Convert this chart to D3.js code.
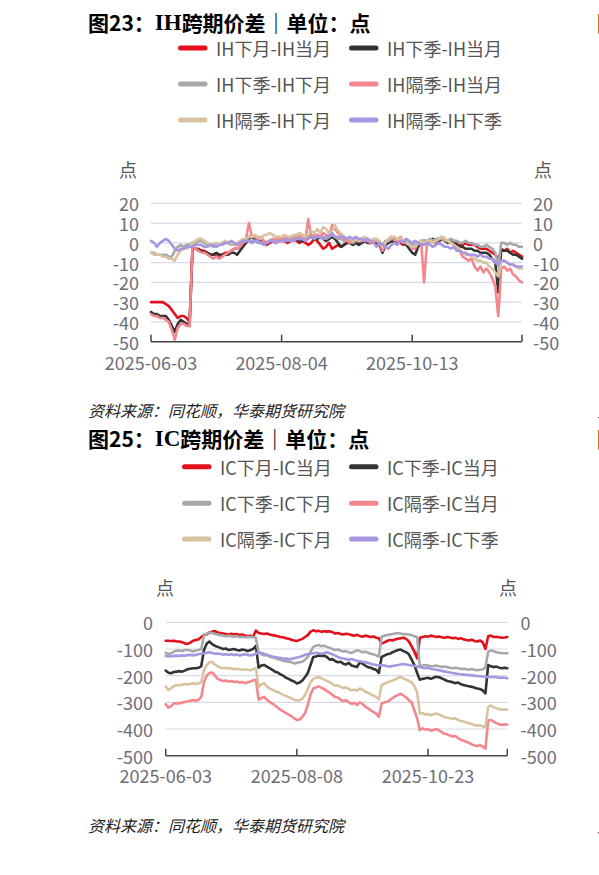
<!DOCTYPE html>
<html><head><meta charset="utf-8">
<script src="https://cdn.jsdelivr.net/npm/d3@7"></script>
<style>body{margin:0;background:#fff}svg{display:block;background:#fff}</style>
</head><body>
<svg id="c" width="599" height="875"></svg>
<script>
// ---------- categories (trading days) ----------
const dates = [
"2025-06-03","2025-06-04","2025-06-05","2025-06-06","2025-06-09","2025-06-10","2025-06-11","2025-06-12","2025-06-13","2025-06-16",
"2025-06-17","2025-06-18","2025-06-19","2025-06-20","2025-06-23","2025-06-24","2025-06-25","2025-06-26","2025-06-27","2025-06-30",
"2025-07-01","2025-07-02","2025-07-03","2025-07-04","2025-07-07","2025-07-08","2025-07-09","2025-07-10","2025-07-11","2025-07-14",
"2025-07-15","2025-07-16","2025-07-17","2025-07-18","2025-07-21","2025-07-22","2025-07-23","2025-07-24","2025-07-25","2025-07-28",
"2025-07-29","2025-07-30","2025-07-31","2025-08-01","2025-08-04","2025-08-05","2025-08-06","2025-08-07","2025-08-08","2025-08-11",
"2025-08-12","2025-08-13","2025-08-14","2025-08-15","2025-08-18","2025-08-19","2025-08-20","2025-08-21","2025-08-22","2025-08-25",
"2025-08-26","2025-08-27","2025-08-28","2025-08-29","2025-09-01","2025-09-02","2025-09-03","2025-09-04","2025-09-05","2025-09-08",
"2025-09-09","2025-09-10","2025-09-11","2025-09-12","2025-09-15","2025-09-16","2025-09-17","2025-09-18","2025-09-19","2025-09-22",
"2025-09-23","2025-09-24","2025-09-25","2025-09-26","2025-09-29","2025-09-30","2025-10-09","2025-10-10","2025-10-13","2025-10-14",
"2025-10-15","2025-10-16","2025-10-17","2025-10-20","2025-10-21","2025-10-22","2025-10-23","2025-10-24","2025-10-27","2025-10-28",
"2025-10-29","2025-10-30","2025-10-31","2025-11-03","2025-11-04","2025-11-05","2025-11-06","2025-11-07","2025-11-10","2025-11-11",
"2025-11-12","2025-11-13","2025-11-14","2025-11-17","2025-11-18","2025-11-19","2025-11-20","2025-11-21","2025-11-24","2025-11-25",
"2025-11-26","2025-11-27","2025-11-28","2025-12-01","2025-12-02","2025-12-03"];

// ---------- tick labels ----------
const ticksIH = ["2025-06-03","2025-08-04","2025-10-13"];
const ticksIC = ["2025-06-03","2025-08-08","2025-10-23"];
const yTicksIH = [20,10,0,-10,-20,-30,-40,-50];
const yTicksIC = [0,-100,-200,-300,-400,-500];

// ---------- series names ----------
const namesIH = ["IH下月-IH当月","IH下季-IH当月","IH下季-IH下月","IH隔季-IH当月","IH隔季-IH下月","IH隔季-IH下季"];
const namesIC = ["IC下月-IC当月","IC下季-IC当月","IC下季-IC下月","IC隔季-IC当月","IC隔季-IC下月","IC隔季-IC下季"];

// ---------- IH values ----------
const ihNextCur = [-30,-30,-30,-30,-30,-31,-32,-34,-36,-38,-37,-37,-38,-40,
-2,-3,-3,-4,-4,-5,-6,-6,-6,-7,-6,-5,-5,-4,-3,-3,-2,-1,0,3,3,2,2,1,0,-1,0,1,0,1,
1,1,0,1,2,1,0,1,0,-1,0,2,1,-1,-3,-2,0,-3,-2,-1,
-2,-1,0,1,0,1,0,0,1,1,0,1,0,-1,-2,0,1,1,0,1,0,-1,0,-1,-2,
-3,-1,0,1,0,1,1,0,1,2,1,1,0,1,0,-1,
-1,0,-1,-1,-1,-2,-3,-3,-3,-4,-5,-6,-8,-4,-4,-3,-5,-4,-5,-6,-7];
const ihNqCur = [-35,-36,-36,-37,-37,-37,-39,-42,-45,-41,-39,-40,-41,-42,
-2,-3,-4,-4,-5,-5,-6,-6,-5,-6,-6,-6,-6,-5,-5,-6,-4,-2,0,2,3,2,2,1,0,0,1,1,1,2,
2,2,1,1,2,2,1,1,2,3,3,2,2,3,2,1,2,3,2,0,
-2,-1,0,0,-1,0,-1,0,1,0,0,1,0,-1,-5,-1,0,1,0,0,1,0,-1,-3,-5,
-6,-2,0,1,0,1,2,1,1,2,1,0,1,0,-1,-2,
-2,-3,-3,-3,-4,-4,-5,-5,-5,-6,-8,-10,-25,-3,-4,-4,-5,-6,-6,-7,-8];
const ihNqNext = [-5,-5,-6,-6,-6,-6,-7,-7,-4,-2,-1,-2,-1,-1,
0,0,1,1,0,-1,-1,-2,-1,-1,0,0,0,-1,-1,-1,0,0,1,1,1,1,0,0,1,0,1,1,2,2,
2,2,1,2,2,3,2,2,3,3,3,3,4,3,3,2,3,4,3,2,
2,1,1,1,0,1,1,1,2,1,1,1,1,0,-1,1,1,2,2,1,2,1,0,0,-1,
-1,0,1,1,1,2,1,2,2,2,1,1,2,1,1,0,
0,1,0,0,-1,-1,-2,-2,-1,-2,-3,-5,-12,0,0,-1,0,-1,-1,-2,-2];
const ihFarCur = [-36,-37,-37,-38,-38,-39,-40,-44,-49,-43,-41,-41,-42,-42,
-1,-3,-4,-5,-5,-6,-7,-8,-7,-8,-7,-6,-5,-4,-3,-3,-2,0,2,10,3,3,2,3,1,0,1,2,1,2,
2,3,2,3,3,4,3,4,2,12,3,4,4,3,5,4,3,9,7,5,
4,2,1,0,1,2,1,1,2,1,0,2,1,0,-4,0,2,3,2,1,3,1,0,-1,-3,
-3,0,1,-20,0,1,0,1,2,3,2,1,0,-1,-3,-4,
-7,-8,-9,-8,-12,-14,-12,-15,-13,-15,-18,-22,-37,-13,-12,-14,-13,-16,-17,-19,-20];
const ihFarNext = [-5,-6,-6,-6,-7,-7,-8,-8,-9,-6,-4,-3,-3,-2,
0,1,2,2,1,0,-1,-1,0,-1,0,1,0,0,-1,0,1,2,2,3,3,4,3,2,4,4,5,4,3,3,
3,4,3,3,4,4,5,4,3,5,6,5,7,5,8,7,5,6,9,6,
5,3,2,2,1,2,1,2,3,2,1,2,2,1,-2,0,2,3,3,2,2,1,0,-1,-2,
-2,0,1,0,1,1,0,1,2,3,2,1,0,-1,-2,-3,
-5,-6,-6,-7,-8,-9,-9,-10,-10,-12,-13,-15,-17,-10,-9,-10,-11,-11,-12,-13,-13];
const ihFarNq = [1,0,-2,0,1,2,1,-1,-3,-4,-3,-3,-2,-2,
-2,-1,-1,-1,-2,-2,-1,-1,-2,-1,-1,0,0,1,0,-1,0,1,1,1,0,1,1,0,-1,0,1,1,0,1,
1,1,2,1,1,2,2,2,1,2,3,2,3,3,2,3,3,5,3,3,
3,3,2,3,2,3,2,2,1,2,1,0,-2,0,-1,-2,-3,-1,0,-1,1,0,2,1,0,
1,0,-1,-1,0,-1,-2,-1,0,-1,-2,-2,-3,-2,-4,-4,
-5,-5,-6,-6,-6,-7,-6,-7,-7,-8,-8,-10,-11,-9,-9,-10,-11,-11,-12,-12,-12];

// ---------- IC values ----------
const icNextCur = [-69,-69,-70,-69,-72,-72,-75,-79,-81,-76,-69,-66,-64,
-55,-48,-45,-38,-35,-33,-38,-40,-42,-44,-46,-43,-45,-44,-48,-46,-50,-52,-50,-54,-31,
-40,-42,-44,-42,-46,-48,-50,-52,-55,-56,-60,-62,-65,-68,-70,-66,-62,-55,-48,-35,
-30,-34,-32,-36,-33,-35,-34,-37,-42,-40,-44,-46,-43,-45,-48,-50,-47,-51,-54,-50,-52,-55,-53,-58,-60,
-80,-75,-70,-66,-68,-64,-62,-60,-58,-62,-72,-90,-110,-135,
-58,-55,-52,-54,-50,-52,-55,-53,-56,-58,-55,-57,-60,-58,-62,-60,-64,-66,-68,-65,-70,-72,-68,-75,-100,
-52,-50,-55,-54,-56,-58,-57,-55];
const icNqCur = [-181,-189,-191,-186,-185,-183,-185,-181,-176,-174,-172,-172,-170,
-165,-104,-80,-72,-82,-88,-92,-96,-100,-98,-104,-102,-100,-104,-106,-102,-104,-108,-104,-100,-88,
-170,-162,-160,-166,-172,-178,-185,-188,-195,-200,-208,-212,-218,-222,-229,-226,-218,-205,-190,-160,
-130,-128,-124,-126,-125,-130,-140,-138,-145,-150,-148,-155,-158,-152,-162,-165,-168,-150,-155,-162,-168,-170,-175,-178,-190,
-130,-125,-120,-118,-112,-108,-104,-102,-108,-112,-120,-140,-160,-190,
-215,-212,-210,-208,-212,-208,-204,-206,-210,-215,-220,-222,-225,-228,-226,-232,-235,-238,-240,-242,-245,-248,-250,-255,-266,
-160,-165,-168,-166,-170,-172,-170,-172];
const icNqNext = [-114,-119,-116,-110,-106,-106,-108,-104,-104,-106,-109,-106,-104,
-100,-50,-42,-38,-40,-44,-46,-48,-50,-52,-50,-52,-54,-52,-55,-54,-56,-55,-54,-56,-58,
-114,-120,-124,-122,-128,-132,-134,-138,-140,-144,-146,-148,-150,-154,-152,-150,-148,-140,-130,-110,
-92,-88,-85,-90,-88,-92,-96,-100,-104,-102,-106,-110,-108,-112,-115,-110,-105,-108,-112,-110,-114,-118,-120,-124,-128,
-54,-50,-48,-46,-44,-42,-40,-42,-45,-44,-46,-48,-52,-56,
-165,-162,-160,-162,-165,-164,-162,-165,-168,-166,-168,-170,-172,-170,-172,-175,-174,-176,-178,-175,-178,-180,-178,-176,-170,
-110,-106,-108,-112,-114,-115,-116,-116];
const icFarCur = [-307,-320,-314,-304,-304,-304,-301,-299,-297,-294,-291,-294,-291,
-280,-225,-200,-190,-188,-200,-212,-216,-220,-218,-222,-220,-224,-222,-226,-224,-228,-225,-222,-218,-215,
-290,-284,-280,-290,-298,-305,-312,-320,-328,-334,-340,-346,-352,-360,-366,-364,-355,-340,-310,-270,
-248,-244,-240,-246,-250,-258,-264,-272,-280,-282,-290,-296,-292,-300,-306,-302,-310,-300,-306,-316,-322,-330,-336,-342,-354,
-305,-300,-298,-292,-284,-278,-272,-268,-274,-282,-292,-300,-330,-360,
-404,-398,-402,-400,-406,-404,-400,-405,-412,-418,-420,-424,-428,-426,-434,-440,-444,-448,-452,-458,-462,-464,-460,-466,-474,
-368,-366,-372,-378,-382,-385,-382,-384];
const icFarNext = [-241,-254,-247,-239,-235,-236,-234,-231,-232,-231,-229,-231,-229,
-225,-180,-160,-150,-148,-158,-165,-170,-172,-170,-174,-172,-176,-174,-176,-178,-176,-178,-180,-176,-172,
-242,-232,-228,-240,-248,-252,-258,-262,-266,-272,-276,-280,-285,-290,-293,-292,-286,-272,-250,-225,
-212,-208,-205,-210,-215,-220,-225,-230,-238,-236,-242,-246,-244,-250,-255,-252,-256,-248,-252,-260,-264,-270,-275,-280,-288,
-236,-230,-226,-222,-218,-214,-208,-205,-210,-215,-220,-225,-240,-262,
-342,-340,-346,-344,-348,-345,-342,-346,-350,-355,-358,-360,-362,-360,-366,-370,-372,-376,-378,-382,-385,-388,-386,-390,-392,
-316,-312,-318,-322,-325,-328,-326,-328];
const icFarNq = [-126,-128,-127,-126,-125,-126,-124,-125,-123,-122,-124,-122,-120,
-118,-116,-114,-112,-115,-118,-117,-119,-121,-120,-122,-120,-123,-121,-124,-122,-120,-122,-124,-122,-118,
-112,-115,-118,-122,-125,-128,-130,-132,-134,-136,-136,-138,-137,-135,-132,-130,-126,-122,-120,-118,
-116,-114,-116,-118,-115,-112,-116,-120,-125,-130,-134,-136,-138,-140,-138,-141,-144,-146,-148,-150,-152,-155,-158,-160,-162,
-160,-162,-165,-166,-164,-162,-160,-158,-156,-158,-160,-162,-164,-166,
-168,-170,-172,-170,-174,-176,-178,-180,-182,-184,-186,-188,-190,-192,-194,-195,-196,-197,-198,-199,-200,-201,-202,-203,-204,
-205,-206,-204,-206,-208,-207,-208,-210];

const colors = ["#e2111c","#333333","#a6a8ab","#f4868d","#d8c3a0","#a996e2"];

const CJK = "'Noto Sans CJK SC','Noto Sans',sans-serif";
const SERIF = "'Liberation Serif','DejaVu Serif',serif";
const svg = d3.select("#c");

function drawChart(cfg){
  const g = svg.append("g");
  // title
  const t = g.append("text").attr("x",88).attr("y",cfg.titleY)
    .attr("dominant-baseline","central").attr("font-size",21).attr("font-weight","bold").attr("fill","#000");
  t.append("tspan").attr("font-family",CJK).text(cfg.titleA);
  t.append("tspan").attr("font-family",SERIF).attr("font-size",23).text(cfg.titleB);
  t.append("tspan").attr("font-family",CJK).text(cfg.titleC);

  // legend
  cfg.names.forEach((n,i)=>{
    const row = Math.floor(i/2), col = i%2;
    const y = cfg.legendRows[row];
    const sx = cfg.legendSwatchX[col];
    g.append("line").attr("x1",sx+2.5).attr("x2",sx+27).attr("y1",y).attr("y2",y)
      .attr("stroke",colors[i]).attr("stroke-width",5).attr("stroke-linecap","round");
    g.append("text").attr("x",cfg.legendTextX[col]).attr("y",y).attr("dominant-baseline","central")
      .attr("font-family",CJK).attr("font-size",18).attr("fill","#555").text(n);
  });

  const x = d3.scalePoint().domain(dates).range([cfg.left,cfg.right]);
  const y = d3.scaleLinear().domain(cfg.yDomain).range([cfg.bottom,cfg.top]);

  // grid + y labels
  cfg.yTicks.forEach(v=>{
    if(v!==cfg.yDomain[0]){
      g.append("line").attr("x1",cfg.left).attr("x2",cfg.right).attr("y1",y(v)).attr("y2",y(v))
        .attr("stroke","#d7dae6").attr("stroke-width",1.2);
    }
    g.append("text").attr("x",cfg.leftLabelX).attr("y",y(v)).attr("text-anchor","end")
      .attr("dominant-baseline","central").attr("font-family",CJK).attr("font-size",18).attr("fill","#6e6e78").text(v);
    g.append("text").attr("x",cfg.rightLabelX).attr("y",y(v)).attr("text-anchor","start")
      .attr("dominant-baseline","central").attr("font-family",CJK).attr("font-size",18).attr("fill","#6e6e78").text(v);
  });
  // unit labels
  g.append("text").attr("x",cfg.unitLX).attr("y",cfg.unitY).attr("text-anchor","middle").attr("dominant-baseline","central")
    .attr("font-family",CJK).attr("font-size",18).attr("fill","#555").text("点");
  g.append("text").attr("x",cfg.unitRX).attr("y",cfg.unitY).attr("text-anchor","middle").attr("dominant-baseline","central")
    .attr("font-family",CJK).attr("font-size",18).attr("fill","#555").text("点");

  // x axis
  g.append("line").attr("x1",cfg.left).attr("x2",cfg.right).attr("y1",cfg.bottom).attr("y2",cfg.bottom)
    .attr("stroke","#444").attr("stroke-width",1.5);
  const tickXs = cfg.xTicks.map(d=>x(d)).concat([cfg.right]);
  tickXs.forEach(tx=>{
    g.append("line").attr("x1",tx).attr("x2",tx).attr("y1",cfg.bottom).attr("y2",cfg.bottom-7)
      .attr("stroke","#444").attr("stroke-width",1.5);
  });
  cfg.xTicks.forEach(d=>{
    g.append("text").attr("x",x(d)).attr("y",cfg.xLabelY).attr("text-anchor","middle").attr("dominant-baseline","central")
      .attr("font-family",CJK).attr("font-size",18).attr("fill","#6e6e78").text(d);
  });

  // lines
  const line = d3.line().x((d,i)=>x(dates[i])).y(d=>y(d));
  cfg.series.forEach((s,i)=>{
    g.append("path").attr("d",line(s)).attr("fill","none").attr("stroke",colors[i])
      .attr("stroke-width",2.6).attr("stroke-linejoin","round").attr("stroke-linecap","round");
  });

  // source
  g.append("text").attr("x",88).attr("y",cfg.sourceY).attr("dominant-baseline","central")
    .attr("font-family",CJK).attr("font-size",16).attr("font-style","italic").attr("fill","#222")
    .text("资料来源：同花顺，华泰期货研究院");
  // neighbouring column (cut off at the page edge, as in the reference)
  g.append("text").attr("x",597).attr("y",cfg.titleY).attr("dominant-baseline","central")
    .attr("font-size",21).attr("font-weight","bold").attr("fill","#000").attr("font-family",CJK).text(cfg.nextTitle);
  g.append("text").attr("x",597).attr("y",cfg.sourceY).attr("dominant-baseline","central")
    .attr("font-family",CJK).attr("font-size",16).attr("font-style","italic").attr("fill","#222")
    .text("资料来源：同花顺，华泰期货研究院");
}

drawChart({
  titleY:22, titleA:"图23：", titleB:"IH", titleC:"跨期价差｜单位：点", nextTitle:"图24：IF跨期价差｜单位：点",
  names:namesIH, legendRows:[48,84,120], legendSwatchX:[178,349], legendTextX:[216,387],
  left:151, right:522, top:203.3, bottom:341.7, yDomain:[-50,20], yTicks:yTicksIH,
  leftLabelX:139, rightLabelX:533, unitLX:128, unitRX:543, unitY:169,
  xTicks:ticksIH, xLabelY:362,
  series:[ihNextCur,ihNqCur,ihNqNext,ihFarCur,ihFarNext,ihFarNq],
  sourceY:410
});
drawChart({
  titleY:437.5, titleA:"图25：", titleB:"IC", titleC:"跨期价差｜单位：点", nextTitle:"图26：IM跨期价差｜单位：点",
  names:namesIC, legendRows:[466.7,503.3,539], legendSwatchX:[182,349], legendTextX:[220,387],
  left:165.7, right:507.3, top:622.3, bottom:755.7, yDomain:[-500,0], yTicks:yTicksIC,
  leftLabelX:153, rightLabelX:520.5, unitLX:165, unitRX:508, unitY:586.5,
  xTicks:ticksIC, xLabelY:775,
  series:[icNextCur,icNqCur,icNqNext,icFarCur,icFarNext,icFarNq],
  sourceY:825
});
</script>
</body></html>
